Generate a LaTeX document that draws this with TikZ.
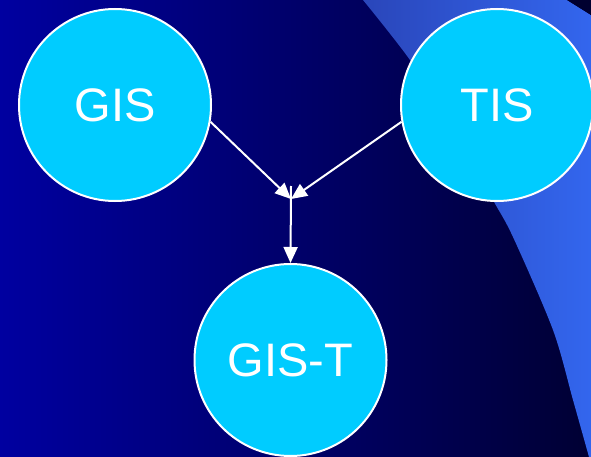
\documentclass[tikz,border=0pt]{standalone}
\usepackage{fontspec}
\setmainfont{Liberation Sans}
\usetikzlibrary{arrows.meta}
\definecolor{bgleft}{HTML}{0000A0}
\definecolor{bgright}{HTML}{000033}
\definecolor{wedgeL}{HTML}{2A46BA}
\definecolor{wedgeR}{HTML}{3366EE}
\definecolor{cornerdark}{HTML}{000030}
\definecolor{bubble}{HTML}{00CCFF}
\begin{document}
\begin{tikzpicture}[x=1pt,y=-1pt,
  bubblenode/.style={circle,draw=white,line width=2pt,fill=bubble,
    minimum size=192pt,inner sep=0pt,text=white,
    font=\fontsize{47}{47}\selectfont},
  link/.style={draw=white,line width=2pt,
    -{Triangle[length=16pt,width=14pt]}}]
\useasboundingbox (0,0) rectangle (591,457);
\shade[left color=bgleft,right color=bgright] (0,0) rectangle (591,457);
\shade[left color=wedgeL,middle color=wedgeR,right color=wedgeR]
  plot[smooth,tension=0.5] coordinates {(363,0) (410,60) (455,130) (493,200) (513,237) (553,330) (573,400) (589,457)}
  -- (591,457) -- (591,15) -- (567,0) -- cycle;
\fill[cornerdark] (567,0) -- (591,0) -- (591,15) -- cycle;
\node[bubblenode] (gis) at (115,105) {GIS};
\node[bubblenode] (tis) at (497,105) {TIS};
\node[bubblenode] (gist) at (290.5,360) {GIS-T};
\coordinate (j) at (291,199);
\coordinate (jtop) at (291,186);
\draw[link] (gis.-10) -- (j);
\draw[link] (tis.190) -- (j);
\draw[link] (jtop) -- (gist.north);
\end{tikzpicture}
\end{document}
